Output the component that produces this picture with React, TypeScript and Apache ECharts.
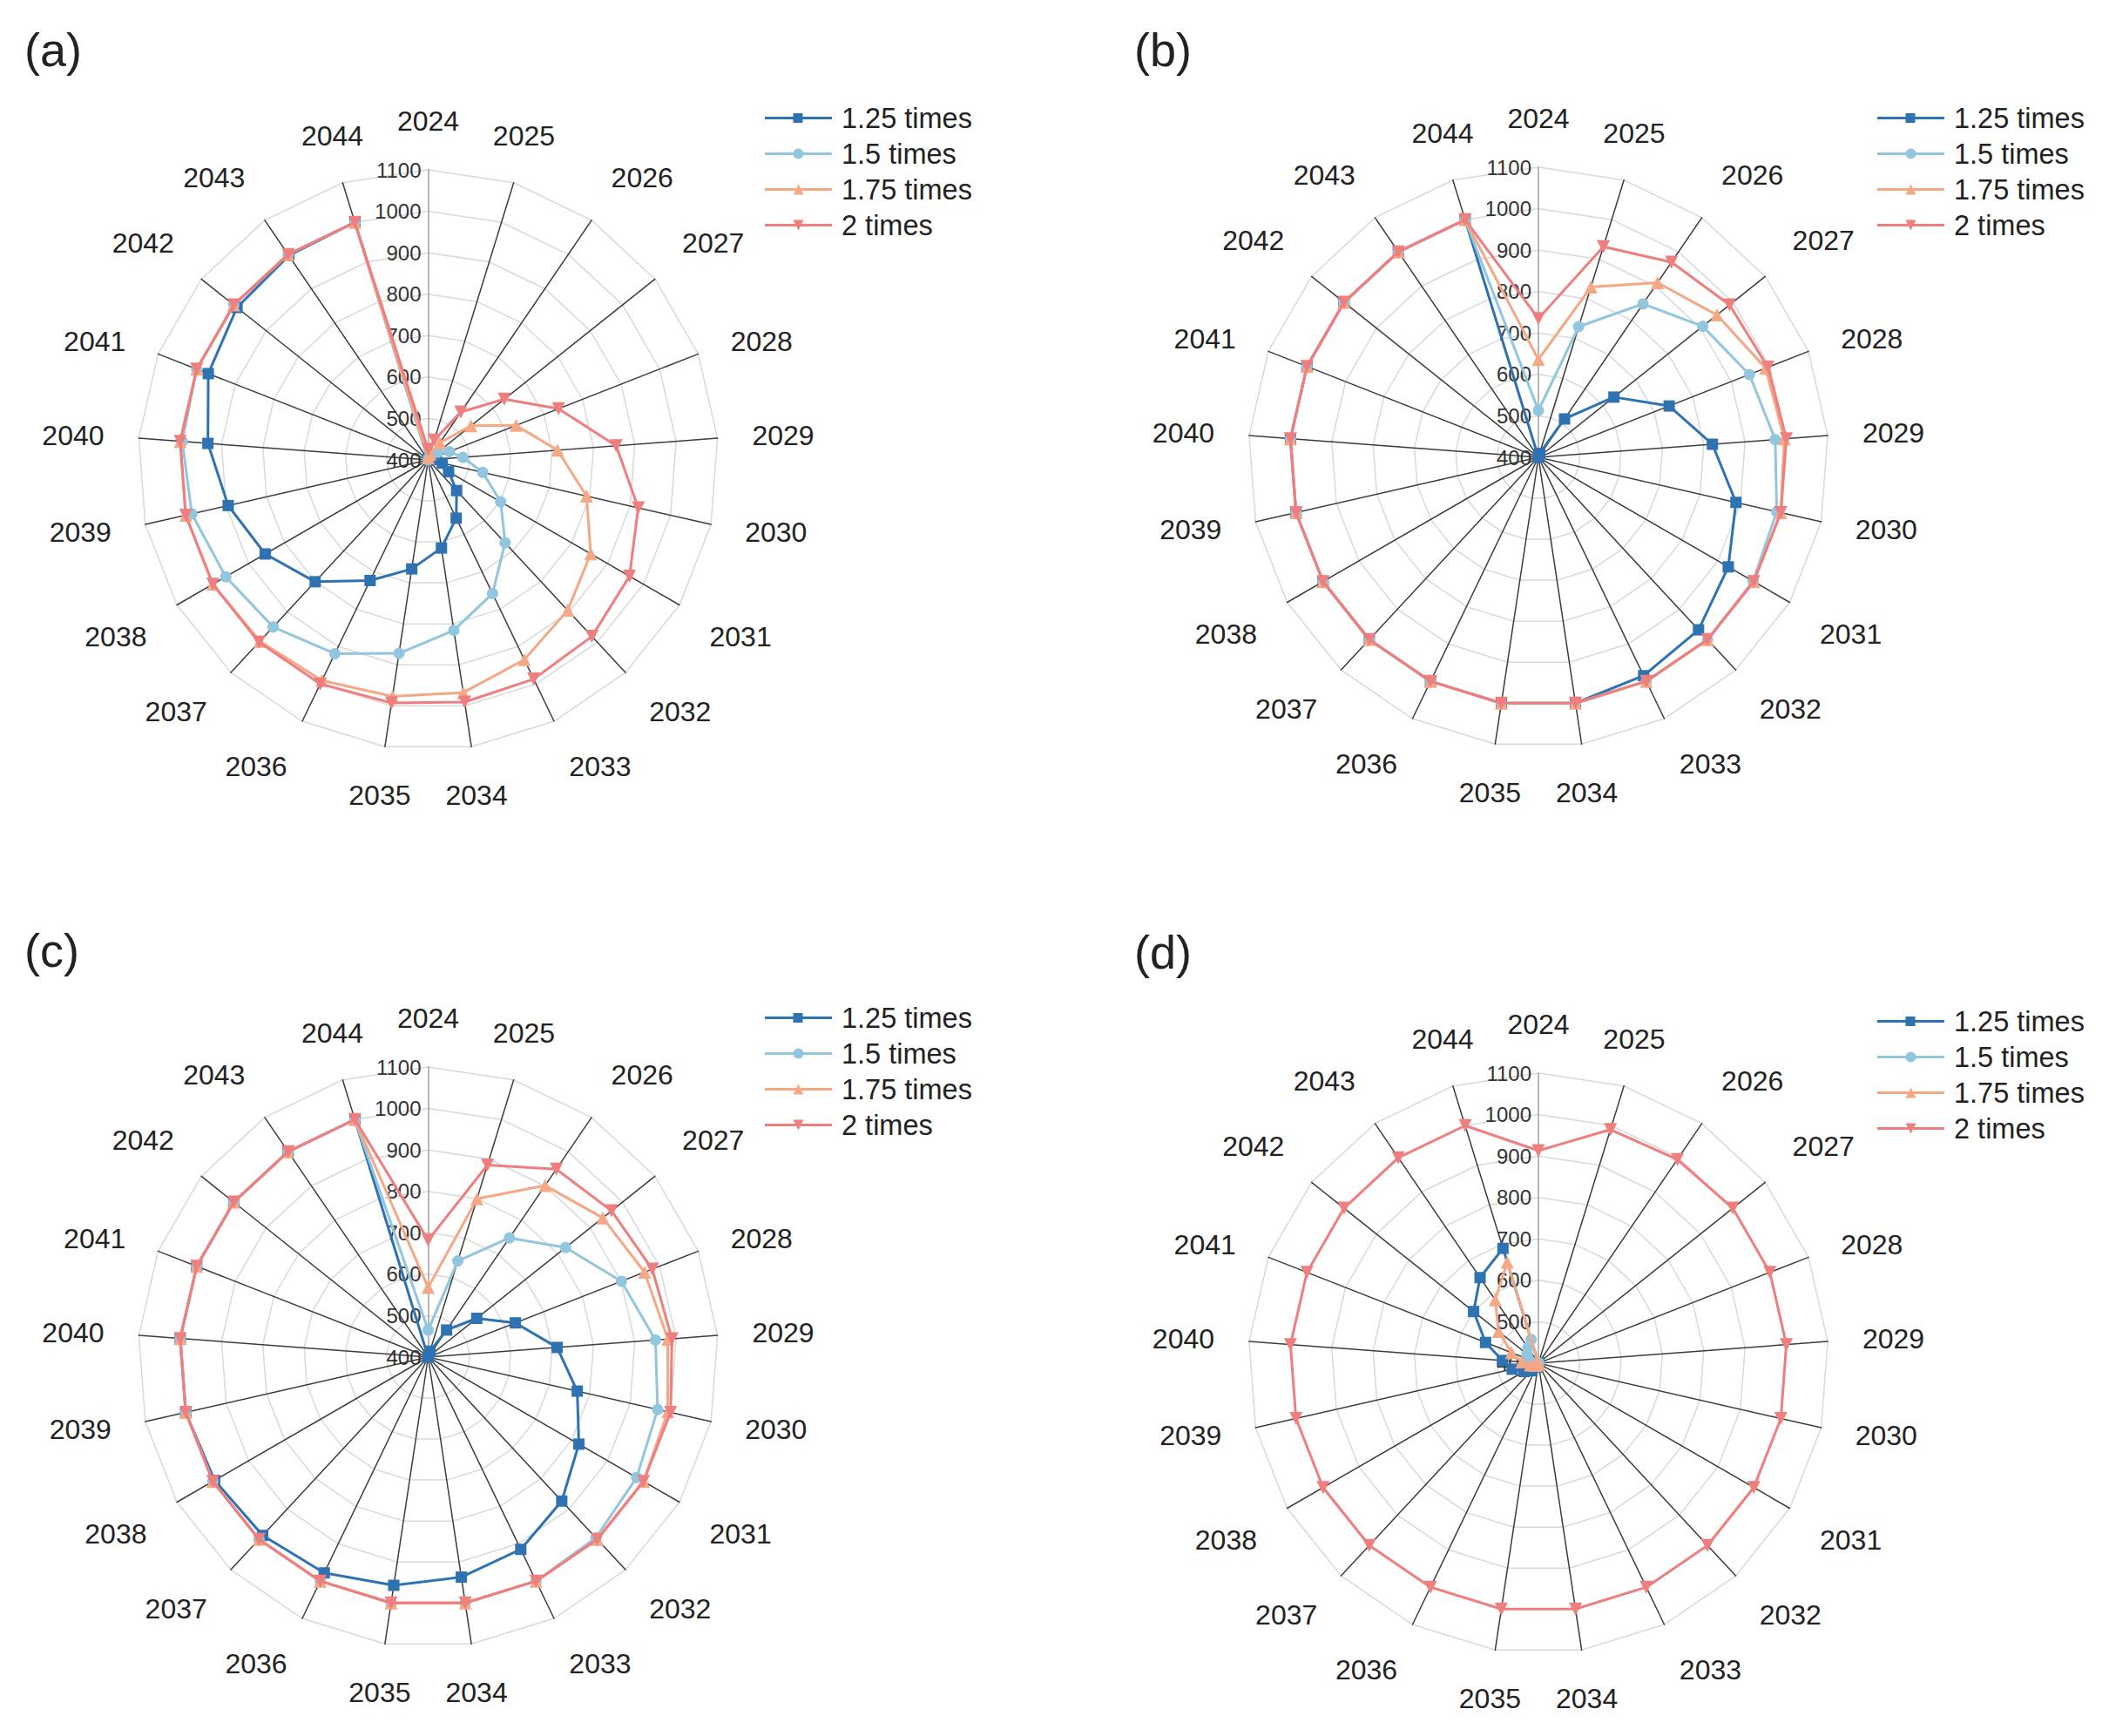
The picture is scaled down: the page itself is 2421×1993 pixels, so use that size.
import { useEffect, useRef } from 'react';
import * as echarts from 'echarts';

const years = [
  '2024', '2025', '2026', '2027', '2028', '2029', '2030', '2031', '2032', '2033', '2034',
  '2035', '2036', '2037', '2038', '2039', '2040', '2041', '2042', '2043', '2044',
];
const seriesNames = ['1.25 times', '1.5 times', '1.75 times', '2 times'];
const radialMin = 400;
const radialMax = 1100;
const radialStep = 100;

// (a)
const a125 = [400, 400, 402, 405, 410, 420, 435, 457, 501, 556, 615, 666, 723, 801, 854, 895, 933, 970, 990, 997, 1000];
const a150 = [400, 405, 415, 430, 455, 484, 535, 602, 673, 758, 816, 872, 919, 950, 964, 985, 995, 1000, 1000, 1000, 1000];
const a175 = [405, 415, 450, 532, 628, 713, 792, 853, 895, 935, 968, 977, 991, 997, 1000, 1000, 1000, 1000, 1000, 1000, 1000];
const a200 = [425, 450, 540, 635, 738, 855, 920, 961, 981, 987, 991, 993, 1000, 1000, 1000, 1000, 1000, 1000, 1000, 1000, 1000];

// (b)
const b125 = [400, 410, 512, 633, 739, 821, 889, 929, 968, 985, 1000, 1000, 1000, 1000, 1000, 1000, 1000, 1000, 1000, 1000, 1000];
const b150 = [513, 730, 848, 907, 947, 973, 990, 998, 1000, 1000, 1000, 1000, 1000, 1000, 1000, 1000, 1000, 1000, 1000, 1000, 1000];
const b175 = [636, 830, 910, 951, 989, 995, 1000, 1000, 1000, 1000, 1000, 1000, 1000, 1000, 1000, 1000, 1000, 1000, 1000, 1000, 1000];
const b200 = [735, 932, 970, 990, 995, 1000, 1000, 1000, 1000, 1000, 1000, 1000, 1000, 1000, 1000, 1000, 1000, 1000, 1000, 1000, 1000];

// (c)
const c125 = [400, 415, 479, 550, 626, 712, 769, 820, 874, 915, 937, 957, 978, 987, 995, 1000, 1000, 1000, 1000, 1000, 1000];
const c150 = [465, 643, 748, 824, 901, 950, 968, 981, 995, 1000, 1000, 1000, 1000, 1000, 1000, 1000, 1000, 1000, 1000, 1000, 1000];
const c175 = [568, 800, 901, 939, 961, 980, 993, 1000, 1000, 1000, 1000, 1000, 1000, 1000, 1000, 1000, 1000, 1000, 1000, 1000, 1000];
const c200 = [682, 885, 949, 966, 981, 990, 1000, 1000, 1000, 1000, 1000, 1000, 1000, 1000, 1000, 1000, 1000, 1000, 1000, 1000, 1000];

// (d)
const d125 = [400, 400, 400, 400, 400, 400, 400, 400, 400, 400, 400, 405, 410, 425, 440, 465, 487, 537, 600, 650, 690];
const d150 = [400, 400, 400, 400, 400, 400, 400, 400, 400, 400, 400, 400, 400, 402, 405, 410, 415, 425, 435, 445, 460];
const d175 = [400, 400, 400, 400, 400, 400, 400, 400, 400, 400, 400, 400, 402, 405, 410, 420, 440, 470, 523, 585, 655];
const d200 = [913, 990, 995, 1000, 1000, 1000, 1000, 1000, 1000, 1000, 1000, 1000, 1000, 1000, 1000, 1000, 1000, 1000, 1000, 1000, 1000];

const FONT = 'Arial, "Liberation Sans", sans-serif';
const colors = ['#2E72B1', '#92C5DE', '#F4A886', '#EF7E7E'];
const symbols = ['rect', 'circle', 'triangle', 'path://M0,0 L10,0 L5,9 Z'];
const symbolSizes = [13, 13, 15, 15];

// legend icons: line with the marker in the middle (77 x 12 box)
const legendIcons = [
  'path://M0,4.6 H77 V7.4 H0 Z M32.5,0.5 H43.5 V11.5 H32.5 Z',
  'path://M0,4.6 H77 V7.4 H0 Z M32.5,6 A6,6 0 1,1 44.5,6 A6,6 0 1,1 32.5,6 Z',
  'path://M0,4.6 H77 V7.4 H0 Z M38.5,0 L44.5,12 L32.5,12 Z',
  'path://M0,4.6 H77 V7.4 H0 Z M32.5,0 L44.5,0 L38.5,12 Z',
];

const panels = [
  { label: '(a)', center: [491.5, 528], legend: [878, 119], title: [28, 30], values: [a125, a150, a175, a200] },
  { label: '(b)', center: [1766, 525], legend: [2155, 119], title: [1302, 30], values: [b125, b150, b175, b200] },
  { label: '(c)', center: [491.5, 1558], legend: [878, 1152], title: [28, 1064], values: [c125, c150, c175, c200] },
  { label: '(d)', center: [1766, 1565], legend: [2155, 1156], title: [1302, 1066], values: [d125, d150, d175, d200] },
];

const RADIUS = 333;
// the year labels sit at RADIUS + 40; the hidden polar is made larger so that its
// label alignment switches at the same angles as the original figure
const LABEL_POLAR_RADIUS = 497;
const LABEL_DIST = 373;

// radar lays indicators out counter-clockwise, the figure runs clockwise from 2024
const radarOrder = years.map((_, i) => (years.length - i) % years.length);

export default function App() {
  const chartRef = useRef<HTMLDivElement>(null);

  useEffect(() => {
    if (!chartRef.current) return;
    const chart = echarts.init(chartRef.current, null, { renderer: 'svg' });

    const radar = panels.map((p) => ({
      center: p.center,
      radius: RADIUS,
      startAngle: 90,
      shape: 'polygon',
      splitNumber: (radialMax - radialMin) / radialStep,
      indicator: radarOrder.map((yi, i) => ({
        name: years[yi],
        min: radialMin,
        max: radialMax,
        ...(i === 0
          ? { axisLabel: { show: true }, axisLine: { lineStyle: { color: '#a0a0a0' } } }
          : {}),
      })),
      axisName: { show: false },
      axisLine: { lineStyle: { color: '#3c3c3c', width: 1.5 } },
      splitLine: { lineStyle: { color: '#d9d9d9', width: 1.5 } },
      splitArea: { show: false },
      axisTick: { show: false },
      axisLabel: {
        show: false,
        color: '#333',
        fontSize: 24,
        margin: 8,
        fontFamily: FONT,
        formatter: (v: number) => String(v),
      },
    }));

    const series: any[] = [];
    panels.forEach((p, pi) => {
      p.values.forEach((vals, si) => {
        series.push({
          type: 'radar',
          radarIndex: pi,
          name: seriesNames[si],
          symbol: symbols[si],
          symbolSize: symbolSizes[si],
          z: 2 + si,
          lineStyle: { color: colors[si], width: 3 },
          itemStyle: { color: colors[si] },
          data: [{ name: seriesNames[si], value: radarOrder.map((yi) => vals[yi]) }],
        });
      });
    });

    const option = {
      animation: false,
      backgroundColor: '#fff',
      title: panels.map((p) => ({
        text: p.label,
        left: p.title[0],
        top: p.title[1],
        padding: 0,
        textStyle: { fontSize: 54, fontWeight: 'normal', color: '#222', fontFamily: FONT },
      })),
      legend: panels.map((p) => ({
        orient: 'vertical',
        left: p.legend[0],
        top: p.legend[1],
        padding: 0,
        itemWidth: 77,
        itemHeight: 12,
        itemGap: 8,
        itemStyle: { borderWidth: 0 },
        textStyle: {
          fontSize: 32.5,
          lineHeight: 33,
          color: '#222',
          fontFamily: FONT,
          padding: [0, 0, 0, 6],
        },
        data: seriesNames.map((n, i) => ({ name: n, icon: legendIcons[i] })),
      })),
      radar,
      polar: panels.map((p) => ({ center: p.center, radius: LABEL_POLAR_RADIUS })),
      angleAxis: panels.map((_, i) => ({
        polarIndex: i,
        type: 'category',
        data: years,
        boundaryGap: false,
        startAngle: 90,
        clockwise: true,
        axisLine: { show: false },
        axisTick: { show: false },
        splitLine: { show: false },
        axisLabel: {
          interval: 0,
          margin: LABEL_DIST - LABEL_POLAR_RADIUS,
          fontSize: 32,
          color: '#222',
          fontFamily: FONT,
        },
      })),
      radiusAxis: panels.map((_, i) => ({
        polarIndex: i,
        type: 'value',
        min: radialMin,
        max: radialMax,
        show: false,
      })),
      series,
    };

    chart.setOption(option);

    return () => {
      chart.dispose();
    };
  }, []);

  return (
    <div
      ref={chartRef}
      style={{ position: 'fixed', left: 0, top: 0, width: 2421, height: 1993, background: '#fff' }}
    />
  );
}
